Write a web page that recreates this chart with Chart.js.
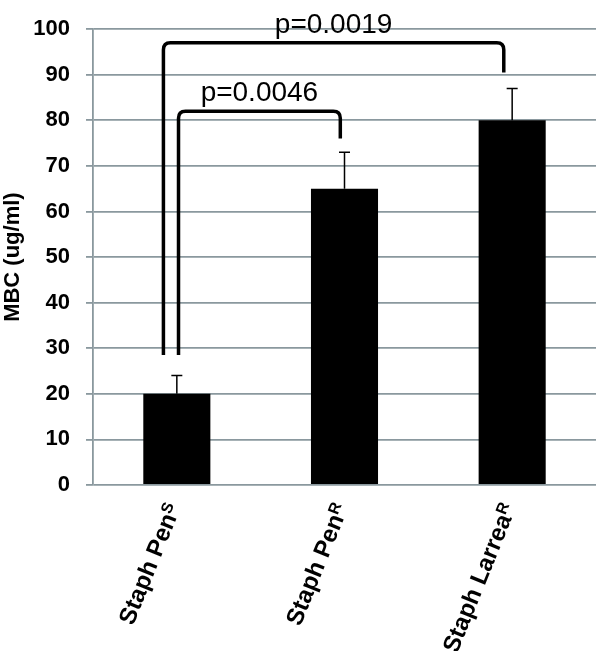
<!DOCTYPE html>
<html>
<head>
<meta charset="utf-8">
<script src="https://cdn.jsdelivr.net/npm/chart.js@4.4.1/dist/chart.umd.min.js"></script>
<style>
  html, body { margin: 0; padding: 0; background: #fff; }
  #wrap { width: 596px; height: 651px; }
</style>
</head>
<body>
<div id="wrap"><canvas id="mbcChart" width="596" height="651"></canvas></div>
<script>
// bar labels (main text + superscript)
const categories = ['Staph Pen', 'Staph Pen', 'Staph Larrea'];
const superscripts = ['S', 'R', 'R'];
const mbcValues = [20, 65, 80];
const errorUp = [4, 8, 7];

// significance brackets, x in category index units, y in ug/ml
const pLabels = ['p=0.0019', 'p=0.0046'];
const bracketLeftX = [-0.08, 0.01];
const bracketRightX = [1.95, 0.975];
const bracketTop = [97, 82];
const bracketLeftEnd = [28.5, 28.5];
const bracketRightEnd = [90.5, 76];

const gridGray = '#8a989e';
const font = 'Liberation Sans, Arial, sans-serif';

const extrasPlugin = {
  id: 'extras',
  afterDatasetsDraw(chart) {
    const ctx = chart.ctx;
    const x = chart.scales.x, y = chart.scales.y;
    ctx.save();

    // error bars (upper only)
    ctx.strokeStyle = '#000';
    ctx.lineWidth = 1.5;
    mbcValues.forEach((v, i) => {
      const cx = x.getPixelForValue(i);
      const y0 = y.getPixelForValue(v);
      const y1 = y.getPixelForValue(v + errorUp[i]);
      ctx.beginPath();
      ctx.moveTo(cx, y0);
      ctx.lineTo(cx, y1);
      ctx.moveTo(cx - 5.5, y1);
      ctx.lineTo(cx + 5.5, y1);
      ctx.stroke();
    });

    // brackets
    ctx.lineWidth = 3.5;
    ctx.lineJoin = 'round';
    pLabels.forEach((lab, i) => {
      const lx = x.getPixelForValue(bracketLeftX[i]);
      const rx = x.getPixelForValue(bracketRightX[i]);
      const ty = y.getPixelForValue(bracketTop[i]);
      const ly = y.getPixelForValue(bracketLeftEnd[i]);
      const ry = y.getPixelForValue(bracketRightEnd[i]);
      const r = 7;
      ctx.beginPath();
      ctx.moveTo(lx, ly);
      ctx.lineTo(lx, ty + r);
      ctx.quadraticCurveTo(lx, ty, lx + r, ty);
      ctx.lineTo(rx - r, ty);
      ctx.quadraticCurveTo(rx, ty, rx, ty + r);
      ctx.lineTo(rx, ry);
      ctx.stroke();

      ctx.fillStyle = '#000';
      ctx.font = '28px ' + font;
      ctx.textAlign = 'center';
      ctx.textBaseline = 'alphabetic';
      ctx.fillText(lab, (lx + rx) / 2, ty - 10);
    });

    // rotated category labels with superscripts
    const ang = -68 * Math.PI / 180;
    categories.forEach((c, i) => {
      const cx = x.getPixelForValue(i);
      ctx.save();
      ctx.translate(cx - 2, y.bottom + 20);
      ctx.rotate(ang);
      ctx.font = 'bold 24px ' + font;
      const w1 = ctx.measureText(c).width;
      ctx.font = 'bold 16px ' + font;
      const w2 = ctx.measureText(superscripts[i]).width;
      ctx.textAlign = 'left';
      ctx.textBaseline = 'middle';
      ctx.font = 'bold 24px ' + font;
      ctx.fillText(c, -(w1 + w2), 0);
      ctx.font = 'bold 16px ' + font;
      ctx.fillText(superscripts[i], -w2, -5);
      ctx.restore();
    });

    ctx.restore();
  }
};

new Chart(document.getElementById('mbcChart'), {
  type: 'bar',
  data: {
    labels: categories,
    datasets: [{
      data: mbcValues,
      backgroundColor: '#000',
      borderWidth: 0,
      barPercentage: 0.4,
      categoryPercentage: 1.0
    }]
  },
  options: {
    responsive: false,
    animation: false,
    layout: { padding: { top: 16, right: 0, left: 0, bottom: 0 } },
    plugins: {
      legend: { display: false },
      tooltip: { enabled: false }
    },
    scales: {
      x: {
        ticks: { display: false },
        grid: { display: false },
        border: { display: false },
        afterFit(scale) { scale.height = 166; }
      },
      y: {
        min: 0,
        max: 100,
        ticks: {
          stepSize: 10,
          color: '#000',
          padding: 16,
          font: { family: font, size: 22, weight: 'bold' }
        },
        grid: { color: gridGray, lineWidth: 1.8, tickLength: 7 },
        border: { color: gridGray, width: 1.8 },
        title: {
          display: true,
          text: 'MBC (ug/ml)',
          color: '#000',
          padding: 0,
          font: { family: font, size: 22, weight: 'bold' }
        },
        afterFit(scale) { scale.width = 93; }
      }
    }
  },
  plugins: [extrasPlugin]
});
</script>
</body>
</html>
